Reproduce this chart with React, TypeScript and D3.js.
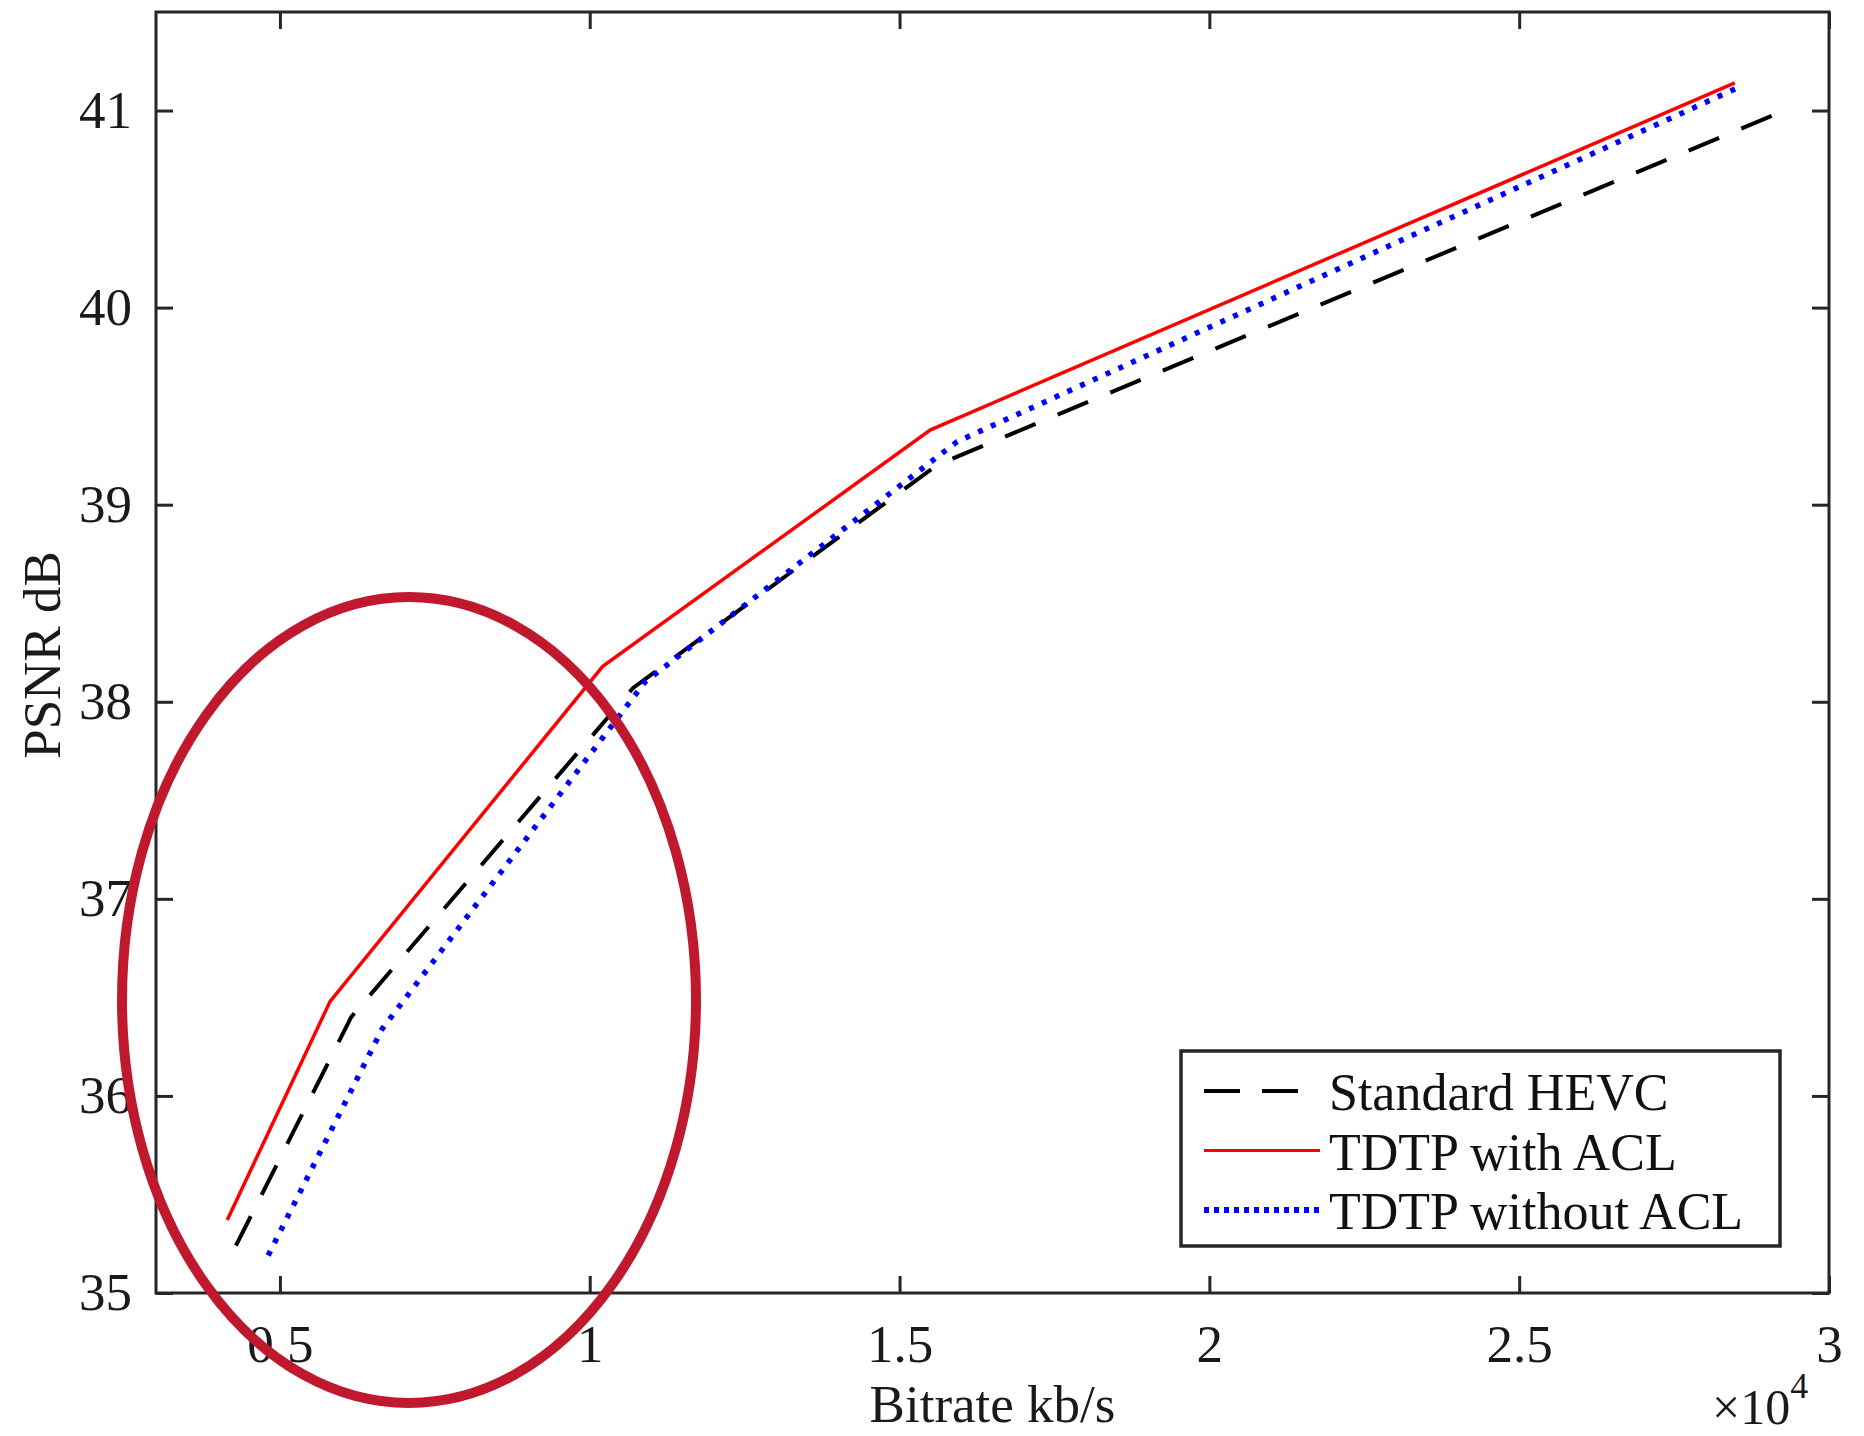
import React, { useRef, useEffect } from 'react'
import * as d3 from 'd3'

// bitrate in kb/s, psnr in dB
const hevcRate = [4290, 6150, 10700, 15600, 29130]
const hevcPsnr = [35.24, 36.4, 38.07, 39.2, 40.98]
const aclRate = [4150, 5810, 10210, 15500, 28480]
const aclPsnr = [35.37, 36.48, 38.18, 39.38, 41.14]
const noAclRate = [4810, 6650, 10890, 15930, 28560]
const noAclPsnr = [35.19, 36.34, 38.1, 39.32, 41.12]

const xTicks = [5000, 10000, 15000, 20000, 25000, 30000]
const yTicks = [35, 36, 37, 38, 39, 40, 41]
const seriesNames = ['Standard HEVC', 'TDTP with ACL', 'TDTP without ACL']

const W = 1864
const H = 1436
const margin = { top: 12, right: 35, bottom: 143, left: 156 }
const FONT = '"Liberation Serif", "Times New Roman", serif'
const AXIS = '#262626'

const App = () => {
  const svgRef = useRef<SVGSVGElement>(null)

  useEffect(() => {
    const svg = d3.select(svgRef.current)
    svg.selectAll('*').remove()

    const iw = W - margin.left - margin.right
    const ih = H - margin.top - margin.bottom
    const x = d3.scaleLinear().domain([3000, 30000]).range([0, iw])
    const y = d3.scaleLinear().domain([35, 41.5]).range([ih, 0])

    const g = svg.append('g').attr('transform', `translate(${margin.left},${margin.top})`)

    // axes, ticks pointing inward like matlab
    const styleAxis = (sel) => {
      sel.select('.domain').remove()
      sel.selectAll('line').attr('stroke', AXIS).attr('stroke-width', 3)
      sel.attr('font-family', FONT).attr('font-size', 53)
      sel.selectAll('text').attr('fill', '#1a1a1a')
    }
    g.append('g').attr('transform', `translate(0,${ih})`)
      .call(d3.axisBottom(x).tickValues(xTicks).tickSizeInner(-17).tickSizeOuter(0).tickPadding(31)
        .tickFormat((d) => d3.format('~g')(d / 1e4)))
      .call(styleAxis)
    g.append('g')
      .call(d3.axisTop(x).tickValues(xTicks).tickSizeInner(-17).tickSizeOuter(0).tickFormat(() => ''))
      .call(styleAxis)
    g.append('g')
      .call(d3.axisLeft(y).tickValues(yTicks).tickSizeInner(-17).tickSizeOuter(0).tickPadding(24)
        .tickFormat(d3.format('d')))
      .call(styleAxis)
    g.append('g').attr('transform', `translate(${iw},0)`)
      .call(d3.axisRight(y).tickValues(yTicks).tickSizeInner(-17).tickSizeOuter(0).tickFormat(() => ''))
      .call(styleAxis)

    g.append('rect').attr('width', iw).attr('height', ih)
      .attr('fill', 'none').attr('stroke', AXIS).attr('stroke-width', 3)

    const line = d3.line<[number, number]>().x(d => x(d[0])).y(d => y(d[1]))
    const zip = (a, b) => a.map((v, i) => [v, b[i]] as [number, number])

    g.append('path').datum(zip(hevcRate, hevcPsnr)).attr('d', line)
      .attr('fill', 'none').attr('stroke', '#000').attr('stroke-width', 4)
      .attr('stroke-dasharray', '33 24')
    g.append('path').datum(zip(aclRate, aclPsnr)).attr('d', line)
      .attr('fill', 'none').attr('stroke', '#ff0000').attr('stroke-width', 3.5)
    g.append('path').datum(zip(noAclRate, noAclPsnr)).attr('d', line)
      .attr('fill', 'none').attr('stroke', '#0000ff').attr('stroke-width', 5.5)
      .attr('stroke-dasharray', '5 9')

    // axis labels
    svg.append('text').attr('x', margin.left + iw / 2).attr('y', 1422)
      .attr('text-anchor', 'middle').attr('font-family', FONT).attr('font-size', 53)
      .attr('fill', '#1a1a1a').text('Bitrate kb/s')
    svg.append('text').attr('transform', 'translate(60,655) rotate(-90)')
      .attr('text-anchor', 'middle').attr('font-family', FONT).attr('font-size', 53)
      .attr('fill', '#1a1a1a').text('PSNR dB')
    const exp = svg.append('text').attr('x', 1712).attr('y', 1424)
      .attr('font-family', FONT).attr('font-size', 50).attr('fill', '#1a1a1a')
    exp.append('tspan').text('×10')
    exp.append('tspan').attr('font-size', 36).attr('dy', -26).text('4')

    // legend
    const lg = svg.append('g').attr('transform', 'translate(1181,1051)')
    lg.append('rect').attr('width', 599).attr('height', 195)
      .attr('fill', '#fff').attr('stroke', AXIS).attr('stroke-width', 3.5)
    const styles = [
      { c: '#000', w: 4, dash: '36 22' },
      { c: '#ff0000', w: 3, dash: null },
      { c: '#0000ff', w: 6, dash: '5 5' },
    ]
    seriesNames.forEach((name, i) => {
      const cy = 40 + i * 59.5
      lg.append('line').attr('x1', 23).attr('x2', 139).attr('y1', cy).attr('y2', cy)
        .attr('stroke', styles[i].c).attr('stroke-width', styles[i].w)
        .attr('stroke-dasharray', styles[i].dash)
      lg.append('text').attr('x', 148).attr('y', cy + 19)
        .attr('font-family', FONT).attr('font-size', 52).attr('fill', '#111').text(name)
    })

    // red highlight ellipse
    svg.append('ellipse').attr('cx', 409).attr('cy', 1000).attr('rx', 287).attr('ry', 403)
      .attr('fill', 'none').attr('stroke', '#c0192e').attr('stroke-width', 10)
  }, [])

  return (
    <svg ref={svgRef} width={W} height={H}
      style={{ position: 'absolute', left: 0, top: 0, background: '#fff' }} />
  )
}

export default App
